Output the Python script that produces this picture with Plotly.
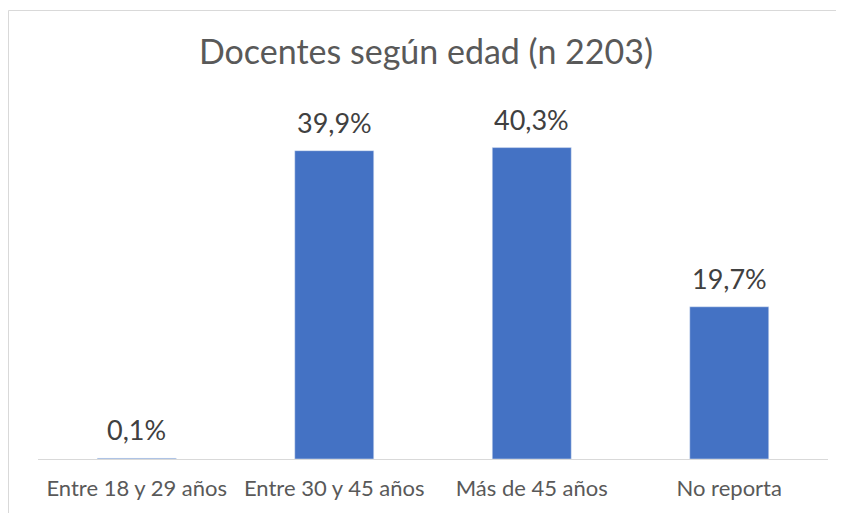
import plotly.graph_objects as go

# Data
categorias = ["Entre 18 y 29 años", "Entre 30 y 45 años", "Más de 45 años", "No reporta"]
porcentajes = [0.1, 39.9, 40.3, 19.7]
etiquetas = [f"{v:.1f}%".replace(".", ",") for v in porcentajes]

fig = go.Figure(
    go.Bar(
        x=categorias,
        y=porcentajes,
        marker=dict(color="#4472C4"),
        width=0.4,
        cliponaxis=False,
    )
)

# data labels above the bars
for cat, val, lab in zip(categorias, porcentajes, etiquetas):
    fig.add_annotation(
        x=cat,
        y=val,
        text=lab,
        showarrow=False,
        yanchor="bottom",
        yshift=10,
        font=dict(size=27, color="#404040"),
    )

fig.update_layout(
    width=836,
    height=505,
    font=dict(family="Lato, 'Open Sans', sans-serif", color="#595959"),
    title=dict(
        text="Docentes según edad (n 2203)",
        x=0.5,
        xanchor="center",
        y=1 - 44 / 505,
        yanchor="middle",
        font=dict(size=34, color="#595959"),
    ),
    margin=dict(l=30, r=16, t=94, b=52),
    paper_bgcolor="white",
    plot_bgcolor="white",
    showlegend=False,
    bargap=0.6,
)

fig.update_xaxes(
    showline=True,
    linecolor="#d9d9d9",
    linewidth=1,
    ticks="",
    ticklabelstandoff=10,
    tickfont=dict(size=22, color="#595959"),
)
fig.update_yaxes(
    range=[0, 46.2],
    visible=False,
    showgrid=False,
)

# chart border
fig.add_shape(
    type="rect",
    xref="paper",
    yref="paper",
    x0=-29.5 / 790,
    x1=1.2,
    y0=-0.5,
    y1=451 / 359,
    line=dict(color="#d9d9d9", width=1),
    layer="below",
)

fig.write_html("out.html")
